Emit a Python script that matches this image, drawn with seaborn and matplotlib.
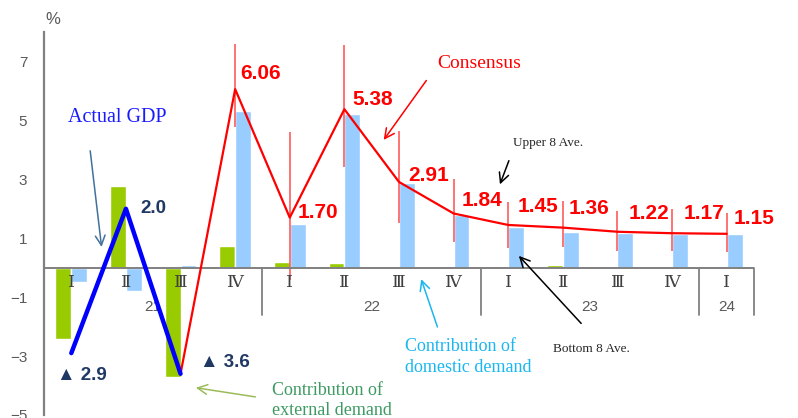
import numpy as np
import pandas as pd
import matplotlib
matplotlib.use("Agg")
import matplotlib.pyplot as plt
import seaborn as sns

# ---------------- data ----------------
quarters = ['21-I', '21-II', '21-III', '21-IV',
            '22-I', '22-II', '22-III', '22-IV',
            '23-I', '23-II', '23-III', '23-IV',
            '24-I']
roman_labels = ['Ⅰ', 'Ⅱ', 'Ⅲ', 'Ⅳ', 'Ⅰ', 'Ⅱ', 'Ⅲ', 'Ⅳ', 'Ⅰ', 'Ⅱ', 'Ⅲ', 'Ⅳ', 'Ⅰ']
year_labels = ['21', '22', '23', '24']
year_sizes = [4, 4, 4, 1]

external_demand = [-2.41, 2.77, -3.71, 0.72, 0.21, 0.15, 0.02, 0.06, 0.02, 0.08, 0.02, 0.02, 0.02]
domestic_demand = [-0.50, -0.78, 0.09, 5.31, 1.48, 5.23, 2.89, 1.78, 1.39, 1.22, 1.17, 1.14, 1.13]
actual_gdp = [-2.9, 2.0, -3.6, np.nan, np.nan, np.nan, np.nan, np.nan, np.nan, np.nan, np.nan, np.nan, np.nan]
consensus = [np.nan, np.nan, -3.6, 6.06, 1.70, 5.38, 2.91, 1.84, 1.45, 1.36, 1.22, 1.17, 1.15]
upper8 = [np.nan, np.nan, np.nan, 7.59, 4.60, 7.55, 4.63, 3.00, 2.24, 2.27, 1.93, 1.98, 1.87]
bottom8 = [np.nan, np.nan, np.nan, 4.79, -0.42, 3.42, 1.51, 0.87, 0.67, 0.71, 0.55, 0.57, 0.53]
actual_labels = ['▲ 2.9', '2.0', '▲ 3.6']

# ---------------- style ----------------
sns.set_style("white")
plt.rcParams['font.family'] = ['Liberation Sans', 'DejaVu Sans']
plt.rcParams['axes.unicode_minus'] = True

GREEN = '#99cc00'
LBLUE = '#99ccff'
RED = '#ff0000'
NAVY = '#1f3864'
GRAY = '#808080'
TXTGRAY = '#595959'

fig = plt.figure(figsize=(7.98, 4.18), dpi=100)
ax = fig.add_axes([44 / 798, 1 - 415 / 418, 710 / 798, 383 / 418])

idx = np.arange(len(quarters))
df = pd.DataFrame({
    'quarter': quarters * 2,
    'component': ['external'] * len(quarters) + ['domestic'] * len(quarters),
    'value': external_demand + domestic_demand,
})
sns.barplot(data=df, x='quarter', y='value', hue='component', order=quarters,
            hue_order=['external', 'domestic'], palette=[GREEN, LBLUE],
            width=0.58, saturation=1, legend=False, ax=ax, zorder=2)

# range bars (upper / bottom 8 averages)
ax.vlines(idx, bottom8, upper8, color='#ff4d4d', lw=1.1, zorder=3)

# consensus line
sns.lineplot(x=idx, y=consensus, color=RED, lw=1.6, ax=ax, zorder=4)
# actual GDP line
sns.lineplot(x=idx, y=actual_gdp, color='#0000ff', lw=3.2, ax=ax, zorder=5)

ax.set_xlim(-0.5, 12.5)
ax.set_ylim(-5, 8)
ax.set_yticks([7, 5, 3, 1, -1, -3, -5])
ax.set_xticks([])
ax.set_xlabel('')
ax.set_ylabel('')
for s in ['top', 'right', 'bottom']:
    ax.spines[s].set_visible(False)
ax.spines['left'].set_color(GRAY)
ax.spines['left'].set_linewidth(1.6)
ax.tick_params(axis='y', direction='in', length=4, width=1.2, color=GRAY,
               pad=12, labelsize=11, labelcolor=TXTGRAY)
ax.axhline(0, color=GRAY, lw=1.4, zorder=3)

# category labels
for i, r in enumerate(roman_labels):
    ax.text(i, -0.5, r, ha='center', va='center', fontsize=12.5, color='#404040',
            family=['DejaVu Serif', 'Noto Sans CJK JP'])
start = 0
for y, n in zip(year_labels, year_sizes):
    ax.text(start + (n - 1) / 2, -1.35, y, ha='center', va='center', fontsize=11,
            color=TXTGRAY)
    start += n
    ax.plot([start - 0.5, start - 0.5], [0, -1.6], color=GRAY, lw=1.3,
            clip_on=False, zorder=3)

fig.text(53 / 798, 1 - 20 / 418, '%', ha='center', va='center', fontsize=12,
         color=TXTGRAY)

# consensus value labels
label_offsets = [None, None, None, (4, 11), (6, 4), (6, 7), (7, 5), (6, 9),
                 (7, 13), (4, 14), (8, 13), (8, 14), (5, 11)]
for i, v in enumerate(consensus):
    off = label_offsets[i]
    if off is None:
        continue
    ax.annotate(f'{v:.2f}', (i, v), xytext=off, textcoords='offset points',
                ha='left', va='center', fontsize=15, fontweight='bold', color=RED)

# actual GDP labels
actual_pos = [(-0.26, -3.65), (1.26, 2.0), (2.36, -3.21)]
for (tx, ty), lab in zip(actual_pos, actual_labels):
    ax.text(tx, ty, lab, ha='left', va='center', fontsize=13.5, fontweight='bold',
            color=NAVY, family=['Liberation Sans', 'DejaVu Sans'])

SERIF = ['Liberation Serif', 'DejaVu Serif']

def note(text, xy_text, xy_arrow_from, xy_arrow_to, color, arrow_color, size):
    ax.text(xy_text[0], xy_text[1], text, ha='left', va='center', fontsize=size,
            color=color, family=SERIF, linespacing=1.25, clip_on=False)
    ax.annotate('', xy=xy_arrow_to, xytext=xy_arrow_from,
                arrowprops=dict(arrowstyle='->,head_length=0.7,head_width=0.35',
                                color=arrow_color, lw=1.1),
                annotation_clip=False)

note('Actual GDP', (-0.06, 5.11), (0.34, 4.06), (0.56, 0.61), '#1a1aff', '#41719c', 14.5)
note('Consensus', (6.70, 6.93), (6.53, 6.43), (5.69, 4.26), RED, RED, 14)
note('Upper 8 Ave.', (8.09, 4.23), (8.03, 3.72), (7.83, 2.74), '#262626', 'black', 9.5)
note('Bottom 8 Ave.', (8.82, -2.77), (9.37, -1.96), (8.16, 0.47), '#262626', 'black', 9.5)
note('Contribution of\ndomestic demand', (6.11, -3.03), (6.72, -2.10), (6.39, -0.30),
     '#1ab6f0', '#1ab6f0', 13)
note('Contribution of\nexternal demand', (3.68, -4.52), (3.42, -4.40), (2.23, -4.06),
     '#3d9a62', '#9bbb59', 13)

fig.savefig('out.png', dpi=100)
